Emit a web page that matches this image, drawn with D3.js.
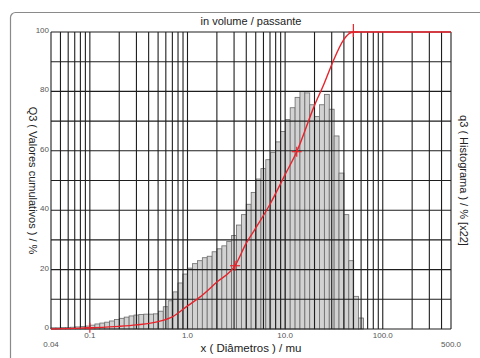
<!DOCTYPE html>
<html>
<head>
<meta charset="utf-8">
<script src="https://cdn.jsdelivr.net/npm/d3@7"></script>
<style>
  body { margin: 0; background: #fff; }
  text { font-family: "Liberation Sans", Arial, sans-serif; }
</style>
</head>
<body>
<div id="chart"></div>
<script>
// size class edges (mu) of the histogram bars
var sizeEdges = [0.04, 0.0449, 0.0504, 0.0565, 0.0634, 0.0711, 0.0798, 0.0896, 0.1005, 0.1127,
  0.1265, 0.1419, 0.1592, 0.1787, 0.2005, 0.2249, 0.2524, 0.2832, 0.3177, 0.3565, 0.4,
  0.449, 0.504, 0.565, 0.634, 0.711, 0.798, 0.896, 1.005, 1.127, 1.265, 1.419, 1.592, 1.787,
  2.005, 2.249, 2.524, 2.832, 3.177, 3.565, 4.0,
  4.49, 5.04, 5.65, 6.34, 7.11, 7.98, 8.96, 10.05, 11.27, 12.65, 14.19, 15.92, 17.87,
  20.05, 22.49, 25.24, 28.32, 31.77, 35.65, 40.0,
  44.9, 50.4, 56.5, 63.4];

// q3 histogram heights (x22)
var q3Hist = [0.4, 0.4, 0.5, 0.5, 0.6, 0.7, 0.8, 1.0,
  1.3, 1.7, 2.0, 2.3, 2.7, 3.2, 3.6, 4.0, 4.4, 4.7, 4.9, 5.0, 5.0, 5.1,
  6.0, 7.5, 9.5, 12.5, 15.5, 18.5, 20.5, 22, 23, 24, 24.5,
  26, 27, 28, 29.5, 31.5, 35, 38.5, 42, 46, 50.5, 54, 57,
  59.5, 63, 66.5, 70.5, 74.5, 78, 80, 79.5, 75.5, 71.5, 75.5, 79, 74,
  65, 52.5, 38.5, 23, 11, 3.7];

// Q3 cumulative curve
var cumSizes = [0.04, 0.07, 0.1, 0.2, 0.3, 0.5, 0.7, 1.0, 1.35, 2.0, 3.07, 4.0, 5.0, 7.0,
  10.0, 13.15, 20.0, 25.0, 30.0, 40.0, 45.0, 50.0, 500];
var cumValues = [0, 0.2, 0.4, 0.9, 1.4, 2.5, 4.1, 7.8, 10.8, 15.8, 21.3, 28.9, 34, 42,
  52, 59.7, 75.3, 82.5, 89, 97.5, 99.4, 100, 100];

// marked points on the curve
var markSizes = [0.1, 3.07, 13.15, 50];
var markValues = [0.4, 21.3, 59.7, 100];

var yTicks = [0, 20, 40, 60, 80, 100];
var xTickValues = [0.1, 1, 10, 100];
var xTickLabels = ["0.1", "1.0", "10.0", "100.0"];
var xEndLabels = ["0.04", "500.0"];

var svgWidth = 480;
var svgHeight = 358;

var margin = { top: 32, right: 29, bottom: 29, left: 51 };
var width = svgWidth - margin.left - margin.right;
var height = svgHeight - margin.top - margin.bottom;

var svg = d3.select("#chart")
  .append("svg")
  .attr("width", svgWidth)
  .attr("height", svgHeight);

// outer frame
svg.append("rect")
  .attr("x", 10.5)
  .attr("y", 12.5)
  .attr("width", 490)
  .attr("height", 370)
  .attr("rx", 5)
  .attr("fill", "none")
  .attr("stroke", "#8a8a8a")
  .attr("stroke-width", 1.2);

var chartGroup = svg.append("g")
  .attr("transform", `translate(${margin.left}, ${margin.top})`);

var xScale = d3.scaleLog()
  .domain([0.04, 500])
  .range([0, width]);

var yScale = d3.scaleLinear()
  .domain([0, 100])
  .range([height, 0]);

// histogram bars
var bars = d3.range(q3Hist.length).map(function(i) {
  return { lo: sizeEdges[i], hi: sizeEdges[i + 1], v: q3Hist[i] };
});

chartGroup.selectAll(".bar")
  .data(bars)
  .enter()
  .append("rect")
  .attr("class", "bar")
  .attr("x", d => xScale(d.lo))
  .attr("width", d => xScale(d.hi) - xScale(d.lo))
  .attr("y", d => yScale(d.v))
  .attr("height", d => yScale(0) - yScale(d.v))
  .attr("fill", "#d2d2d2")
  .attr("stroke", "#6a6a6a")
  .attr("stroke-width", 0.8);

// grid
chartGroup.selectAll(".vgrid")
  .data(xScale.ticks())
  .enter()
  .append("line")
  .attr("x1", d => xScale(d))
  .attr("x2", d => xScale(d))
  .attr("y1", 0)
  .attr("y2", height)
  .attr("stroke", "#1e1e1e")
  .attr("stroke-width", 1.1);

chartGroup.selectAll(".hgrid")
  .data(yScale.ticks(10))
  .enter()
  .append("line")
  .attr("x1", 0)
  .attr("x2", width)
  .attr("y1", d => yScale(d))
  .attr("y2", d => yScale(d))
  .attr("stroke", "#1e1e1e")
  .attr("stroke-width", 1.1);

// cumulative curve
var line = d3.line()
  .x(d => xScale(d[0]))
  .y(d => yScale(d[1]))
  .curve(d3.curveMonotoneX);

chartGroup.append("path")
  .datum(cumSizes.map((s, i) => [s, cumValues[i]]))
  .attr("d", line)
  .attr("fill", "none")
  .attr("stroke", "#e8232b")
  .attr("stroke-width", 1.4);

// cross marks
var marks = chartGroup.selectAll(".mark")
  .data(markSizes.map((s, i) => [s, markValues[i]]))
  .enter()
  .append("g")
  .attr("transform", d => `translate(${xScale(d[0])}, ${yScale(d[1])})`);

marks.append("line")
  .attr("x1", -5).attr("x2", 5)
  .attr("y1", 0).attr("y2", 0)
  .attr("stroke", "#e8232b")
  .attr("stroke-width", 1.2);

marks.append("line")
  .attr("x1", 0).attr("x2", 0)
  .attr("y1", (d, i) => i === markSizes.length - 1 ? -8 : -5)
  .attr("y2", 5)
  .attr("stroke", "#e8232b")
  .attr("stroke-width", 1.2);

// y tick labels
chartGroup.selectAll(".ylab")
  .data(yTicks)
  .enter()
  .append("text")
  .attr("x", -2)
  .attr("y", d => yScale(d) + 1)
  .attr("text-anchor", "end")
  .attr("font-size", 8)
  .attr("fill", "#555")
  .text(d => d);

// x tick labels
chartGroup.selectAll(".xlab")
  .data(xTickValues)
  .enter()
  .append("text")
  .attr("x", d => xScale(d))
  .attr("y", height + 9)
  .attr("text-anchor", "middle")
  .attr("font-size", 8)
  .attr("fill", "#555")
  .text((d, i) => xTickLabels[i]);

chartGroup.selectAll(".xend")
  .data(xScale.domain())
  .enter()
  .append("text")
  .attr("x", d => xScale(d))
  .attr("y", height + 18)
  .attr("text-anchor", "middle")
  .attr("font-size", 8)
  .attr("fill", "#555")
  .text((d, i) => xEndLabels[i]);

// titles
svg.append("text")
  .attr("x", margin.left + width / 2)
  .attr("y", 25)
  .attr("text-anchor", "middle")
  .attr("font-size", 11)
  .attr("fill", "#222")
  .text("in volume / passante");

svg.append("text")
  .attr("x", margin.left + width / 2)
  .attr("y", 352)
  .attr("text-anchor", "middle")
  .attr("font-size", 11.5)
  .attr("fill", "#222")
  .text("x ( Diâmetros ) / mu");

svg.append("text")
  .attr("transform", `translate(29, ${margin.top + height / 2}) rotate(90)`)
  .attr("text-anchor", "middle")
  .attr("font-size", 11)
  .attr("fill", "#222")
  .text("Q3 ( Valores cumulativos ) / %");

svg.append("text")
  .attr("transform", `translate(460, ${margin.top + height / 2}) rotate(90)`)
  .attr("text-anchor", "middle")
  .attr("font-size", 11)
  .attr("fill", "#222")
  .text("q3 ( Histograma ) / % [x22]");
</script>
</body>
</html>
